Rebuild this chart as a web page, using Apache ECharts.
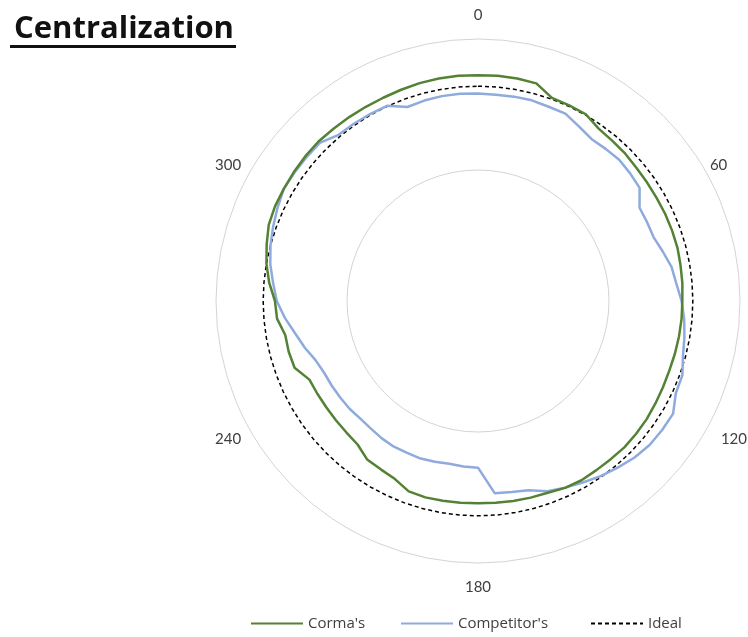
<!DOCTYPE html>
<html>
<head>
<meta charset="utf-8">
<script src="https://cdn.jsdelivr.net/npm/echarts@6/dist/echarts.min.js"></script>
<style>
html,body{margin:0;padding:0;background:#fff;}
#chart{width:748px;height:637px;}
</style>
</head>
<body>
<div id="chart"></div>
<script>
// Angle of each measured point (degrees, clockwise from top)
const angleDeg = [0,5,10,15,20,25,30,35,40,45,50,55,60,65,70,75,80,85,90,95,100,105,110,115,
  120,125,130,135,140,145,150,155,160,165,170,175,180,185,190,195,200,205,210,215,220,225,230,235,
  240,245,250,255,260,265,270,275,280,285,290,295,300,305,310,315,320,325,330,335,340,345,350,355];

const cormaValues = [86.2,86.3,86.2,86.0,82.5,82.4,82.3,80.3,79.8,79.5,79.0,78.8,78.7,78.8,78.8,78.8,78.5,78.3,78.0,78.0,77.9,77.8,77.7,77.9,
  78.2,78.6,78.8,79.0,78.8,78.8,79.0,78.7,77.9,77.7,77.5,77.3,77.2,77.3,77.4,77.6,77.3,75.0,74.2,73.8,71.5,71.0,70.8,70.7,
  70.8,71.0,74.5,74.8,74.7,77.0,77.5,80.0,82.0,83.5,85.0,85.5,85.6,85.8,86.0,86.1,85.8,85.7,85.6,85.6,85.8,86.1,86.2,86.3];

const competitorValues = [79.2,79.0,79.2,79.3,78.9,78.9,77.0,75.5,75.8,76.2,75.8,75.3,71.2,71.2,71.3,73.0,75.0,76.0,77.7,79.0,80.0,81.0,83.0,83.3,
  86.0,85.8,85.5,84.5,83.0,81.6,80.0,78.6,77.3,74.8,74.0,73.7,63.6,63.4,63.1,63.5,64.0,64.0,64.2,64.0,63.6,63.5,64.0,64.2,
  64.5,64.8,66.0,68.5,70.9,74.0,76.8,78.5,80.5,82.0,83.2,84.4,85.6,85.5,85.4,85.4,82.8,82.6,82.4,82.2,78.8,79.2,79.4,79.4];

const idealValues = [82,82,82,82,82,82,82,82,82,82,82,82,82,82,82,82,82,82,82,82,82,82,82,82,
  82,82,82,82,82,82,82,82,82,82,82,82,82,82,82,82,82,82,82,82,82,82,82,82,
  82,82,82,82,82,82,82,82,82,82,82,82,82,82,82,82,82,82,82,82,82,82,82,82];

const angleTickLabels = ['0','60','120','180','240','300'];
const seriesNames = ["Corma's", "Competitor's", "Ideal"];
const seriesColors = ['#548235', '#8faadc', '#000000'];

// Build closed loops (radius, angle) pairs
function loop(values) {
  const d = values.map((v, i) => [v, angleDeg[i]]);
  d.push([values[0], 360]);
  return d;
}

// rich style key per tick label (nudges text like the original)
const labelStyleKey = { '0': 't', '60': 'r1', '120': 'r2', '180': 'b', '240': 'l2', '300': 'l1' };

const legendCommon = {
  bottom: 1,
  itemWidth: 52,
  itemHeight: 10,
  itemGap: 0,
  itemStyle: { opacity: 0 },
  textStyle: { fontFamily: 'Open Sans', fontSize: 15, color: '#404040' }
};

const chart = echarts.init(document.getElementById('chart'));
chart.setOption({
  animation: false,
  backgroundColor: '#ffffff',
  title: {
    text: 'Centralization',
    left: 9,
    top: 9,
    textStyle: { fontFamily: 'Open Sans', fontWeight: 'bold', fontSize: 31, color: '#111111' }
  },
  graphic: [{
    type: 'rect',
    left: 10,
    top: 45,
    shape: { width: 226, height: 3 },
    style: { fill: '#111111' }
  }],
  polar: { center: [478, 301], radius: 262 },
  angleAxis: {
    type: 'value',
    min: 0,
    max: 360,
    interval: 60,
    startAngle: 90,
    clockwise: true,
    axisLine: { show: false },
    axisTick: { show: false },
    splitLine: { show: false },
    axisLabel: {
      margin: 0,
      fontFamily: 'Lato',
      fontSize: 15,
      color: '#404040',
      formatter: function (v) {
        const s = String(v);
        if (angleTickLabels.indexOf(s) < 0) return '';
        return '{' + labelStyleKey[s] + '|' + s + '}';
      },
      rich: {
        t:  { fontFamily: 'Lato', fontSize: 15, color: '#404040', padding: [0, 0, 16, 0] },
        b:  { fontFamily: 'Lato', fontSize: 15, color: '#404040', padding: [17, 0, 0, 0] },
        r1: { fontFamily: 'Lato', fontSize: 15, color: '#404040', lineHeight: 10, padding: [0, 0, 0, 5] },
        r2: { fontFamily: 'Lato', fontSize: 15, color: '#404040', padding: [0, 0, 0, 16] },
        l1: { fontFamily: 'Lato', fontSize: 15, color: '#404040', lineHeight: 10, padding: [0, 10, 0, 0] },
        l2: { fontFamily: 'Lato', fontSize: 15, color: '#404040', padding: [0, 10, 0, 0] }
      }
    }
  },
  radiusAxis: {
    type: 'value',
    min: 0,
    max: 100,
    interval: 50,
    axisLine: { show: false },
    axisTick: { show: false },
    axisLabel: { show: false },
    splitLine: { show: true, lineStyle: { color: '#d4d4d4', width: 1 } }
  },
  legend: [
    Object.assign({ data: [seriesNames[0]], left: 245 }, legendCommon),
    Object.assign({ data: [seriesNames[1]], left: 395 }, legendCommon),
    Object.assign({ data: [seriesNames[2]], left: 585, itemWidth: 50 }, legendCommon)
  ],
  series: [
    {
      name: seriesNames[0], type: 'line', coordinateSystem: 'polar',
      data: loop(cormaValues), symbol: 'none', smooth: false,
      lineStyle: { color: seriesColors[0], width: 2.5 }, itemStyle: { color: seriesColors[0] }, z: 3
    },
    {
      name: seriesNames[1], type: 'line', coordinateSystem: 'polar',
      data: loop(competitorValues), symbol: 'none', smooth: false,
      lineStyle: { color: seriesColors[1], width: 2.5 }, itemStyle: { color: seriesColors[1] }, z: 2
    },
    {
      name: seriesNames[2], type: 'line', coordinateSystem: 'polar',
      data: loop(idealValues), symbol: 'none', smooth: false,
      lineStyle: { color: seriesColors[2], width: 1.5, type: [4, 3] }, itemStyle: { color: seriesColors[2] }, z: 1
    }
  ]
});
</script>
</body>
</html>
